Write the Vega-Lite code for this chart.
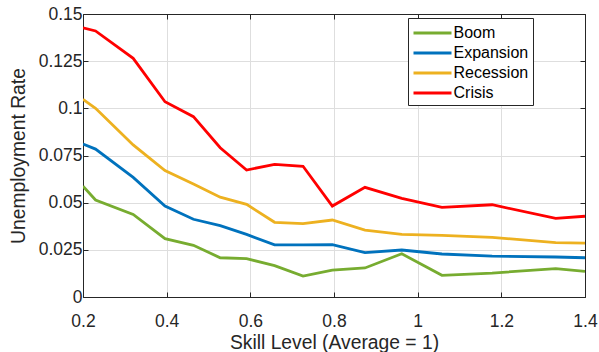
{
  "$schema": "https://vega.github.io/schema/vega-lite/v6.json",
  "autosize": "none",
  "width": 502,
  "height": 283,
  "padding": {"left": 83, "top": 14, "right": 14, "bottom": 55},
  "background": "white",
  "config": {
    "font": "Liberation Sans",
    "view": {"stroke": "#262626", "strokeWidth": 1}
  },
  "data": {"values": [
    {"series": "Crisis", "skill": 0.2, "rate": 0.1427},
    {"series": "Crisis", "skill": 0.23, "rate": 0.141},
    {"series": "Crisis", "skill": 0.32, "rate": 0.1265},
    {"series": "Crisis", "skill": 0.396, "rate": 0.1035},
    {"series": "Crisis", "skill": 0.464, "rate": 0.0956},
    {"series": "Crisis", "skill": 0.528, "rate": 0.0791},
    {"series": "Crisis", "skill": 0.591, "rate": 0.0673},
    {"series": "Crisis", "skill": 0.658, "rate": 0.0703},
    {"series": "Crisis", "skill": 0.726, "rate": 0.0693},
    {"series": "Crisis", "skill": 0.796, "rate": 0.0482},
    {"series": "Crisis", "skill": 0.874, "rate": 0.0581},
    {"series": "Crisis", "skill": 0.962, "rate": 0.0523},
    {"series": "Crisis", "skill": 1.058, "rate": 0.0475},
    {"series": "Crisis", "skill": 1.178, "rate": 0.0489},
    {"series": "Crisis", "skill": 1.33, "rate": 0.0417},
    {"series": "Crisis", "skill": 1.4, "rate": 0.0428},
    {"series": "Recession", "skill": 0.2, "rate": 0.1048},
    {"series": "Recession", "skill": 0.23, "rate": 0.1},
    {"series": "Recession", "skill": 0.32, "rate": 0.0806},
    {"series": "Recession", "skill": 0.396, "rate": 0.067},
    {"series": "Recession", "skill": 0.464, "rate": 0.0599},
    {"series": "Recession", "skill": 0.528, "rate": 0.0529},
    {"series": "Recession", "skill": 0.591, "rate": 0.0491},
    {"series": "Recession", "skill": 0.658, "rate": 0.0396},
    {"series": "Recession", "skill": 0.726, "rate": 0.0389},
    {"series": "Recession", "skill": 0.796, "rate": 0.0408},
    {"series": "Recession", "skill": 0.874, "rate": 0.0355},
    {"series": "Recession", "skill": 0.962, "rate": 0.0332},
    {"series": "Recession", "skill": 1.058, "rate": 0.0327},
    {"series": "Recession", "skill": 1.178, "rate": 0.0316},
    {"series": "Recession", "skill": 1.33, "rate": 0.0288},
    {"series": "Recession", "skill": 1.4, "rate": 0.0286},
    {"series": "Expansion", "skill": 0.2, "rate": 0.0811},
    {"series": "Expansion", "skill": 0.23, "rate": 0.0784},
    {"series": "Expansion", "skill": 0.32, "rate": 0.0634},
    {"series": "Expansion", "skill": 0.396, "rate": 0.0482},
    {"series": "Expansion", "skill": 0.464, "rate": 0.0412},
    {"series": "Expansion", "skill": 0.528, "rate": 0.0378},
    {"series": "Expansion", "skill": 0.591, "rate": 0.0332},
    {"series": "Expansion", "skill": 0.658, "rate": 0.0276},
    {"series": "Expansion", "skill": 0.726, "rate": 0.0276},
    {"series": "Expansion", "skill": 0.796, "rate": 0.0277},
    {"series": "Expansion", "skill": 0.874, "rate": 0.0235},
    {"series": "Expansion", "skill": 0.962, "rate": 0.0249},
    {"series": "Expansion", "skill": 1.058, "rate": 0.0228},
    {"series": "Expansion", "skill": 1.178, "rate": 0.0217},
    {"series": "Expansion", "skill": 1.33, "rate": 0.0212},
    {"series": "Expansion", "skill": 1.4, "rate": 0.0208},
    {"series": "Boom", "skill": 0.2, "rate": 0.0588},
    {"series": "Boom", "skill": 0.23, "rate": 0.0514},
    {"series": "Boom", "skill": 0.32, "rate": 0.0438},
    {"series": "Boom", "skill": 0.396, "rate": 0.0309},
    {"series": "Boom", "skill": 0.464, "rate": 0.0274},
    {"series": "Boom", "skill": 0.528, "rate": 0.0208},
    {"series": "Boom", "skill": 0.591, "rate": 0.0203},
    {"series": "Boom", "skill": 0.658, "rate": 0.0166},
    {"series": "Boom", "skill": 0.726, "rate": 0.0111},
    {"series": "Boom", "skill": 0.796, "rate": 0.0143},
    {"series": "Boom", "skill": 0.874, "rate": 0.0154},
    {"series": "Boom", "skill": 0.962, "rate": 0.0229},
    {"series": "Boom", "skill": 1.058, "rate": 0.0115},
    {"series": "Boom", "skill": 1.178, "rate": 0.0127},
    {"series": "Boom", "skill": 1.33, "rate": 0.015},
    {"series": "Boom", "skill": 1.4, "rate": 0.0136}
  ]},
  "layer": [
    {
      "mark": {"type": "line", "strokeWidth": 2.8, "clip": true},
      "encoding": {
        "x": {
          "field": "skill", "type": "quantitative",
          "scale": {"domain": [0.2, 1.4], "nice": false, "zero": false},
          "axis": {
            "title": "Skill Level (Average = 1)",
            "values": [0.2, 0.4, 0.6, 0.8, 1, 1.2, 1.4],
            "format": ".3~g",
            "grid": true, "gridColor": "#dedede", "gridWidth": 1,
            "domainColor": "#262626", "tickColor": "#262626",
            "tickSize": -5, "labelPadding": 20, "labelFlush": false,
            "labelFontSize": 17.5, "labelColor": "#262626",
            "titleFontSize": 19.3, "titleColor": "#262626", "titleFontWeight": "normal",
            "titleBaseline": "alphabetic", "titleY": 51
          }
        },
        "y": {
          "field": "rate", "type": "quantitative",
          "scale": {"domain": [0, 0.15], "nice": false},
          "axis": {
            "title": "Unemployment Rate",
            "values": [0, 0.025, 0.05, 0.075, 0.1, 0.125, 0.15],
            "format": ".3~g",
            "grid": true, "gridColor": "#dedede", "gridWidth": 1,
            "domainColor": "#262626", "tickColor": "#262626",
            "tickSize": -5, "labelPadding": 6, "labelFlush": false,
            "labelFontSize": 17.5, "labelColor": "#262626",
            "titleFontSize": 19.3, "titleColor": "#262626", "titleFontWeight": "normal",
            "titleBaseline": "alphabetic", "titleX": -59
          }
        },
        "color": {
          "field": "series", "type": "nominal",
          "scale": {
            "domain": ["Boom", "Expansion", "Recession", "Crisis"],
            "range": ["#77AC30", "#0072BD", "#EDB120", "#FF0000"]
          },
          "legend": {
            "title": null,
            "orient": "none",
            "legendX": 325,
            "legendY": 4,
            "symbolType": "M-2,0H2",
            "symbolSize": 361,
            "symbolOffset": 9.5,
            "symbolStrokeWidth": 3,
            "labelFontSize": 16,
            "labelColor": "#000000",
            "labelOffset": 10,
            "rowPadding": 1,
            "padding": 4,
            "strokeColor": "#262626",
            "fillColor": "white"
          }
        }
      }
    },
    {
      "mark": {"type": "point", "opacity": 0},
      "encoding": {
        "x": {
          "field": "skill", "type": "quantitative",
          "scale": {"domain": [0.2, 1.4], "nice": false, "zero": false},
          "axis": {"orient": "top", "title": null, "labels": false, "grid": false,
                   "values": [0.2, 0.4, 0.6, 0.8, 1, 1.2, 1.4],
                   "domainColor": "#262626", "tickColor": "#262626", "tickSize": -5}
        },
        "y": {
          "field": "rate", "type": "quantitative",
          "scale": {"domain": [0, 0.15], "nice": false},
          "axis": {"orient": "right", "title": null, "labels": false, "grid": false,
                   "values": [0, 0.025, 0.05, 0.075, 0.1, 0.125, 0.15],
                   "domainColor": "#262626", "tickColor": "#262626", "tickSize": -5}
        }
      }
    }
  ],
  "resolve": {"axis": {"x": "independent", "y": "independent"}}
}
